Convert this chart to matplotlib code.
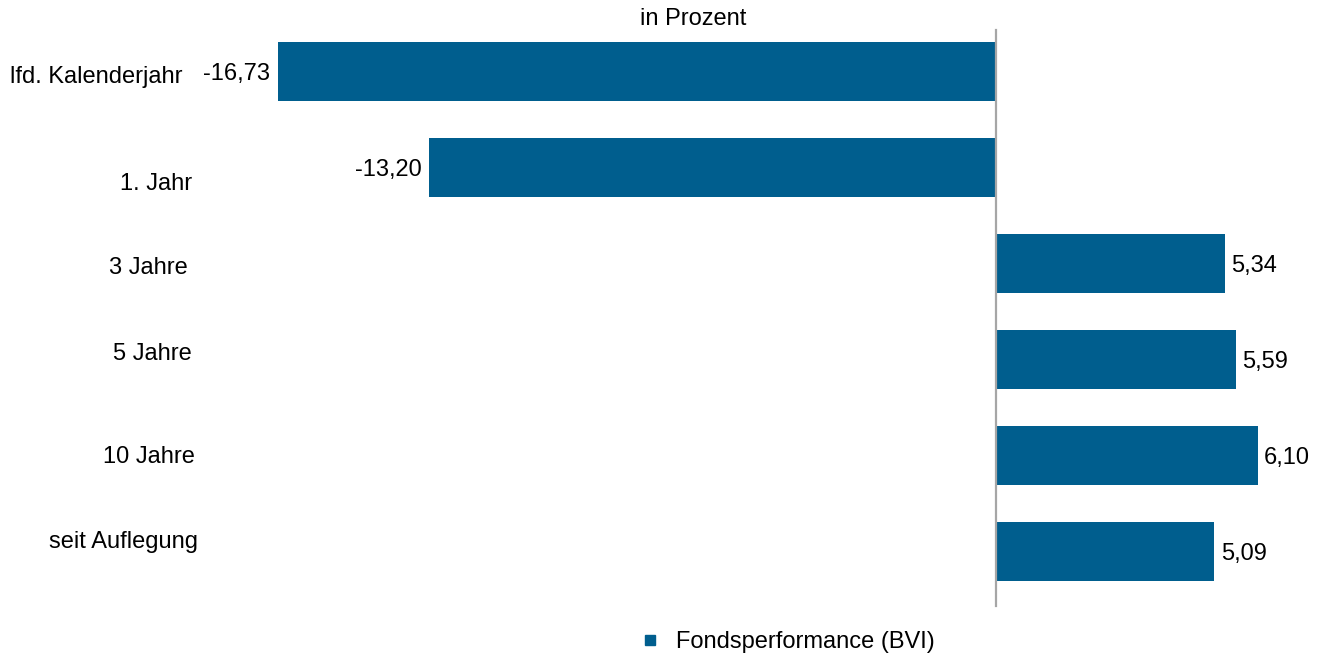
import matplotlib
matplotlib.use("Agg")
import matplotlib.pyplot as plt
from matplotlib.lines import Line2D
import matplotlib.transforms as mtransforms

plt.rcParams['font.family'] = ['Liberation Sans', 'DejaVu Sans']

categories = ["lfd. Kalenderjahr", "1. Jahr", "3 Jahre", "5 Jahre", "10 Jahre", "seit Auflegung"]
values = [-16.73, -13.20, 5.34, 5.59, 6.10, 5.09]
value_labels = ["-16,73", "-13,20", "5,34", "5,59", "6,10", "5,09"]
series_name = "Fondsperformance (BVI)"
title = "in Prozent"

# per-label offsets (points) to mimic the reference's label placement
label_dx = [-9, -2, -5, -2, 0, 2]
label_dy = [-4, -12, -3, 4, -1, 7]

bar_color = "#005E8E"
FS = 17
W, H = 1324, 657
fig = plt.figure(figsize=(W / 100, H / 100), dpi=100)

ax_left, ax_right = 200, 1310
ax_top, ax_bottom = 23.5, 599.5
ax = fig.add_axes([ax_left / W, 1 - ax_bottom / H, (ax_right - ax_left) / W, (ax_bottom - ax_top) / H])

ypos = list(range(len(categories)))
ax.barh(ypos, values, height=0.615, color=bar_color, zorder=2)
ax.set_xlim(-18.546, 7.316)
ax.set_ylim(5.5, -0.5)

for s in ax.spines.values():
    s.set_visible(False)
ax.set_xticks([])
ax.set_yticks([])

ax.axvline(0, ymin=-0.011, ymax=0.989, color="#A6A6A6", lw=1.6, clip_on=False, zorder=3)

for i, (v, lab) in enumerate(zip(values, value_labels)):
    if v < 0:
        ax.annotate(lab, (v, i), xytext=(-5.5, -2), textcoords="offset points",
                    ha="right", va="center", fontsize=FS, color="#000000")
    else:
        ax.annotate(lab, (v, i), xytext=(4.5, -2), textcoords="offset points",
                    ha="left", va="center", fontsize=FS, color="#000000")

# category labels
trans = mtransforms.blended_transform_factory(fig.transFigure, ax.transData)
for i, (cat, dx, dy) in enumerate(zip(categories, label_dx, label_dy)):
    ax.annotate(cat, (195 / W, i), xycoords=trans, xytext=(dx, dy), textcoords="offset points",
                ha="right", va="center", fontsize=FS, color="#000000", annotation_clip=False)

fig.text(693 / W, 1 - 19 / H, title, ha="center", va="center", fontsize=FS, color="#000000")

handle = Line2D([], [], marker="s", linestyle="none", color=bar_color, markersize=7.5)
fig.legend([handle], [series_name], loc="center", bbox_to_anchor=(786 / W, 1 - 642 / H),
           frameon=False, fontsize=FS, handletextpad=0.6, handlelength=1.0)

fig.savefig("out.png", dpi=100)
